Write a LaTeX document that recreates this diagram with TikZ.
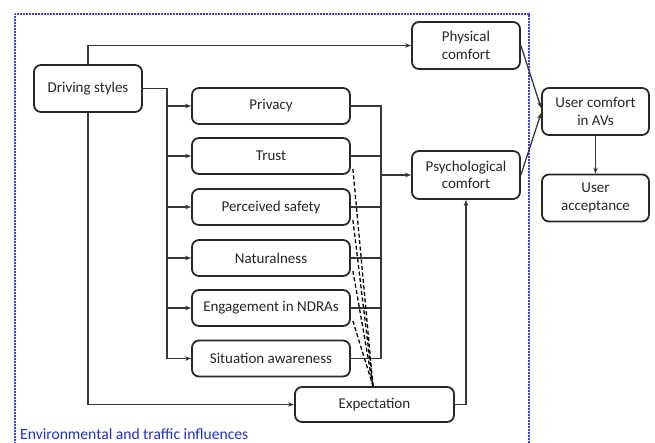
\documentclass[tikz,border=0pt]{standalone}
\usepackage{fontspec}
\setmainfont{Carlito}
\usetikzlibrary{arrows.meta,calc}
\definecolor{boxc}{RGB}{40,40,40}
\definecolor{linec}{RGB}{55,55,55}
\definecolor{envblue}{RGB}{35,45,205}
\definecolor{dotblue}{RGB}{60,60,240}
\begin{document}
\begin{tikzpicture}[x=1pt,y=-1pt,
  box/.style={draw=boxc, line width=1.8pt, rounded corners=7pt, align=center,
    font=\fontsize{15}{17.5}\selectfont, inner sep=0pt, text=black!85},
  wbox/.style={box, minimum width=108pt, minimum height=47pt},
  mbox/.style={box, minimum width=158pt, minimum height=36pt},
  conn/.style={draw=linec, line width=1.3pt},
  arr/.style={conn, -{Stealth[length=6pt,width=4.5pt]}},
  dsh/.style={draw=black, line width=1.3pt, dash pattern=on 4pt off 2.5pt}]
\clip (0,0) rectangle (655,442);
\fill[white] (0,0) rectangle (655,442);
\draw[dotblue, line width=1.1pt, dash pattern=on 0.6pt off 0.9pt] (15,450) -- (15,14) -- (529,14) -- (529,450);

\node[wbox] (ds) at (88,88.5) {Driving styles};
\node[wbox] (phys) at (466,45.5) {Physical\\comfort};
\node[mbox] (priv) at (271,106) {Privacy};
\node[mbox] (trust) at (271,156) {Trust};
\node[mbox] (safe) at (271,207) {Perceived safety};
\node[mbox] (nat) at (271,258) {Naturalness};
\node[mbox] (eng) at (271,308) {Engagement in NDRAs};
\node[mbox] (sit) at (271,358.5) {Situation awareness};
\node[box, minimum width=159pt, minimum height=35pt] (exp) at (374.5,404.5) {Expectation};
\node[wbox, minimum height=48pt] (psy) at (466,175) {Psychological\\comfort};
\node[wbox, minimum width=107pt] (uc) at (595.5,111.5) {User comfort\\in AVs};
\node[wbox, minimum width=107pt] (ua) at (595.5,198) {User\\acceptance};
\node[anchor=base west, text=envblue, font=\fontsize{15.6}{17}\selectfont, inner sep=0pt] (env) at (20,439) {Environmental and traffic influences};

\coordinate (lbus) at (167,0);
\coordinate (rbus) at (381,0);

% driving styles to physical comfort
\draw[arr] (ds.north) |- (phys.west);
% driving styles to the six factors
\draw[conn] (ds.east) -- (lbus |- ds.east) -- (lbus |- sit.west);
\foreach \n in {priv,trust,safe,nat,eng,sit}
  \draw[arr] (lbus |- \n.west) -- (\n.west);
% driving styles to expectation
\draw[arr] (ds.south) |- (exp.west);
% factors to psychological comfort
\draw[conn] (priv.east) -- (rbus |- priv.east) -- (rbus |- sit.east) -- (sit.east);
\foreach \n in {trust,safe,nat,eng}
  \draw[conn] (\n.east) -- (rbus |- \n.east);
\draw[arr] (rbus |- psy.west) -- (psy.west);
% expectation to psychological comfort
\draw[arr] (exp.east) -| (psy.south);
% to user comfort
\draw[arr] (phys.east) -- ([yshift=3.5pt]uc.west);
\draw[arr] (psy.east) -- ([yshift=-1.5pt]uc.west);
\draw[arr] (uc.south) -- (ua.north);
% dashed links to expectation
\foreach \n in {trust,safe,nat,eng}
  \draw[dsh] ([xshift=2pt,yshift=6pt]\n.south east) -- ([xshift=-1.5pt]exp.north);
\end{tikzpicture}
\end{document}
